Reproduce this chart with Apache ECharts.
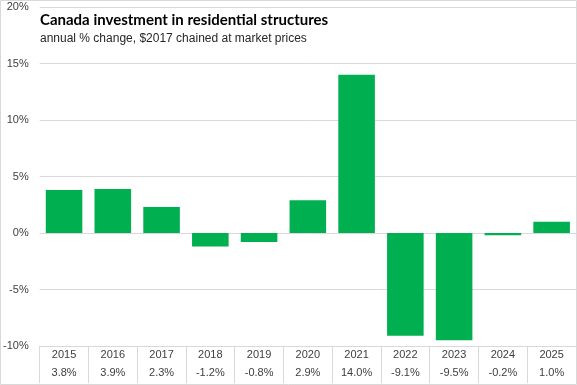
<!DOCTYPE html>
<html><head><meta charset="utf-8">
<script src="https://cdn.jsdelivr.net/npm/echarts@6/dist/echarts.min.js"></script>
<style>html,body{margin:0;padding:0;background:#fff}#c{width:577px;height:385px}</style>
</head><body><div id="c"></div>
<script>
const years = ['2015','2016','2017','2018','2019','2020','2021','2022','2023','2024','2025'];
const changes = [3.8, 3.9, 2.3, -1.2, -0.8, 2.9, 14.0, -9.1, -9.5, -0.2, 1.0];
const yTicks = [-10, -5, 0, 5, 10, 15, 20];

const chart = echarts.init(document.getElementById('c'), null, {renderer:'canvas'});
const fam = 'Liberation Sans, Arial, sans-serif';
chart.setOption({
  animation: false,
  textStyle: {fontFamily: fam},
  title: {
    text: 'Canada investment in residential structures',
    subtext: 'annual % change, $2017 chained at market prices',
    left: 35, top: 8, itemGap: 5,
    textStyle: {fontSize: 15, fontWeight: 'bold', color: '#000', fontFamily: 'Lato, ' + fam},
    subtextStyle: {fontSize: 12, color: '#262626', fontFamily: fam}
  },
  graphic: [{type:'rect', shape:{x:0.5,y:0.5,width:576,height:384}, style:{fill:'none', stroke:'#d9d9d9', lineWidth:1}, z:-1}],
  grid: {left: 38, right: 1, top: 7, bottom: 39},
  xAxis: {
    type: 'category', data: years,
    axisLine: {show: true, onZero: false, lineStyle: {color: '#d9d9d9'}},
    axisTick: {show: true, length: 37, lineStyle: {color: '#d9d9d9'}},
    axisLabel: {
      margin: 0, interval: 0,
      formatter: (v, i) => '{y|' + v + '}\n{v|' + changes[i].toFixed(1) + '%}',
      rich: {
        y: {fontSize: 11, color: '#404040', lineHeight: 18, fontFamily: fam},
        v: {fontSize: 11, color: '#404040', lineHeight: 18, fontFamily: fam}
      }
    }
  },
  yAxis: {
    type: 'value', min: yTicks[0], max: yTicks[yTicks.length-1], interval: 5,
    axisLine: {show: false}, axisTick: {show: false},
    splitLine: {lineStyle: {color: '#d9d9d9'}},
    axisLabel: {formatter: '{value}%', color: '#404040', fontSize: 11, margin: 11, fontFamily: fam}
  },
  series: [{
    type: 'bar', data: changes, barCategoryGap: '25%',
    itemStyle: {color: '#00B050'}
  }]
});
</script></body></html>
